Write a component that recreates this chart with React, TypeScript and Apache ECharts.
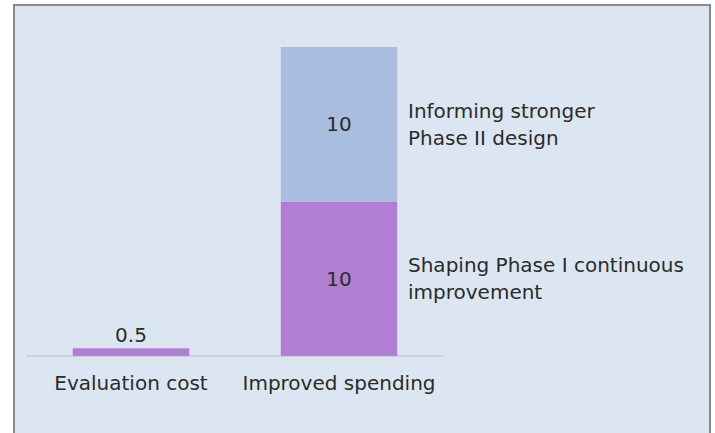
import React, { useEffect, useRef } from "react";
import * as echarts from "echarts";

const categories = ["Evaluation cost", "Improved spending"];
const phaseOneValues = [0.5, 10];
const phaseTwoValues = [null, 10];
const phaseOneNote = "Shaping Phase I continuous\nimprovement";
const phaseTwoNote = "Informing stronger\nPhase II design";
const yMax = 20;

const FONT = "DejaVu Sans";
const TEXT = "#2b2b2b";
const FS = 20;

export default function App() {
  const ref = useRef<HTMLDivElement>(null);
  useEffect(() => {
    if (!ref.current) return;
    const chart = echarts.init(ref.current, undefined, { renderer: "svg" });
    const noteLabel = {
      show: true,
      position: "right",
      distance: 69,
      color: TEXT,
      fontFamily: FONT,
      fontSize: FS,
      lineHeight: 27,
      align: "left",
      verticalAlign: "middle",
    };
    const lastIdx = categories.length - 1;
    chart.setOption({
      animation: false,
      backgroundColor: "#ffffff",
      graphic: [
        {
          type: "rect",
          z: -10,
          silent: true,
          shape: { x: 14, y: 5, width: 696, height: 450 },
          style: { fill: "#dce6f2", stroke: "#8a8a8a", lineWidth: 2 },
        },
      ],
      grid: { left: 27, right: 272, top: 47, bottom: 77, containLabel: false },
      xAxis: {
        type: "category",
        data: categories,
        axisLine: { show: true, lineStyle: { color: "#c6ccd4", width: 1.5 } },
        axisTick: { show: false },
        axisLabel: {
          interval: 0,
          hideOverlap: false,
          color: TEXT,
          fontFamily: FONT,
          fontSize: FS,
          margin: 17,
        },
      },
      yAxis: {
        type: "value",
        min: 0,
        max: yMax,
        show: false,
        splitLine: { show: false },
      },
      series: [
        {
          name: "Phase I",
          type: "bar",
          stack: "total",
          barWidth: "56%",
          itemStyle: { color: "#b07fd2" },
          label: {
            show: true,
            position: "inside",
            color: TEXT,
            fontFamily: FONT,
            fontSize: FS,
          },
          data: phaseOneValues.map((v, i) =>
            i === 0
              ? { value: v, label: { position: "top", distance: 3 } }
              : { value: v }
          ),
          markPoint: {
            symbol: "rect",
            symbolSize: 0,
            silent: true,
            label: { ...noteLabel, formatter: phaseOneNote },
            data: [
              {
                coord: [lastIdx, (phaseOneValues[lastIdx] as number) / 2],
                value: 0,
              },
            ],
          },
        },
        {
          name: "Phase II",
          type: "bar",
          stack: "total",
          barWidth: "56%",
          itemStyle: { color: "#a9bddf" },
          label: {
            show: true,
            position: "inside",
            color: TEXT,
            fontFamily: FONT,
            fontSize: FS,
          },
          data: phaseTwoValues,
          markPoint: {
            symbol: "rect",
            symbolSize: 0,
            silent: true,
            label: { ...noteLabel, formatter: phaseTwoNote },
            data: [
              {
                coord: [
                  lastIdx,
                  (phaseOneValues[lastIdx] as number) +
                    (phaseTwoValues[lastIdx] as number) / 2,
                ],
                value: 0,
              },
            ],
          },
        },
      ],
    });
    return () => chart.dispose();
  }, []);
  return (
    <div
      ref={ref}
      style={{ position: "fixed", left: 0, top: 0, width: 715, height: 433 }}
    />
  );
}
